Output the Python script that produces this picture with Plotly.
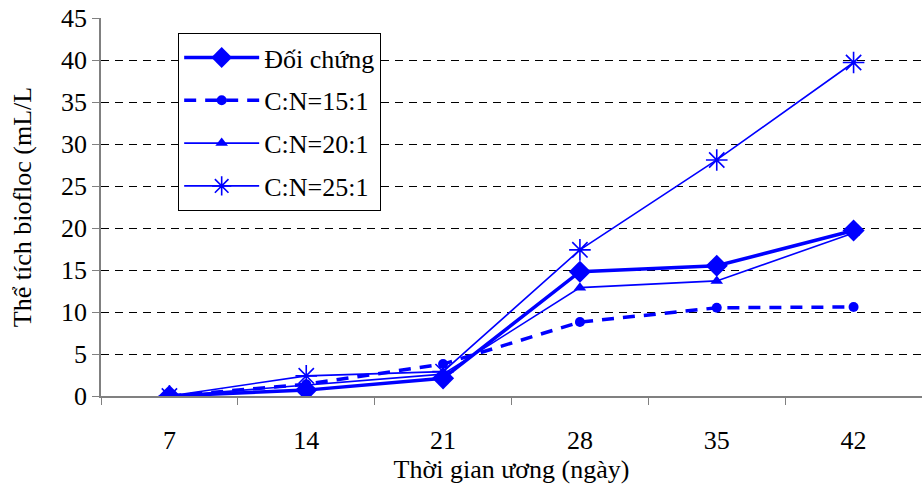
import plotly.graph_objects as go

days = ["7", "14", "21", "28", "35", "42"]
doi_chung = [0.0, 0.7, 2.1, 14.8, 15.5, 19.7]
cn15 = [0.0, 1.4, 3.8, 8.8, 10.5, 10.6]
cn20 = [0.0, 1.3, 2.6, 12.9, 13.7, 19.4]
cn25 = [0.0, 2.4, 2.9, 17.4, 28.1, 39.7]
y_ticks = [0, 5, 10, 15, 20, 25, 30, 35, 40, 45]

BLUE = "#0000FF"
FONT = "Liberation Serif, Times New Roman, serif"
FS = 26

fig = go.Figure()
fig.add_trace(go.Scatter(x=days, y=doi_chung, name="Đối chứng", mode="lines+markers",
                         line=dict(color=BLUE, width=3.5),
                         marker=dict(symbol="diamond", size=17, color=BLUE),
                         legendgroup="a"))
fig.add_trace(go.Scatter(x=days, y=cn15, name="C:N=15:1", mode="lines+markers",
                         line=dict(color=BLUE, width=3.5, dash="12px,9px"),
                         marker=dict(symbol="circle", size=10, color=BLUE),
                         legendgroup="b"))
fig.add_trace(go.Scatter(x=days, y=cn20, name="C:N=20:1", mode="lines+markers",
                         line=dict(color=BLUE, width=1.6),
                         marker=dict(symbol="triangle-up", size=11, color=BLUE),
                         legendgroup="c"))
fig.add_trace(go.Scatter(x=days, y=cn25, name="C:N=25:1", mode="lines+markers",
                         line=dict(color=BLUE, width=1.6),
                         marker=dict(symbol="asterisk-open", size=18, color=BLUE,
                                     line=dict(color=BLUE, width=1.6)),
                         legendgroup="d"))

fig.update_layout(
    width=922, height=497,
    margin=dict(l=101, r=0, t=18, b=101),
    paper_bgcolor="white", plot_bgcolor="white",
    font=dict(family=FONT, size=FS, color="black"),
    showlegend=True,
    legend=dict(x=0.094, y=0.96, xanchor="left", yanchor="top",
                bordercolor="black", borderwidth=1, bgcolor="white",
                font=dict(family=FONT, size=FS), itemwidth=75,
                tracegroupgap=6),
    xaxis=dict(type="category", showgrid=False, showline=True, linecolor="#808080",
               linewidth=1.5, ticks="outside", tickson="boundaries", ticklen=7,
               tickcolor="#808080", ticklabelstandoff=20,
               title=dict(text="Thời gian ương (ngày)", font=dict(family=FONT, size=FS), standoff=6),
               range=[-0.5, 5.5]),
    yaxis=dict(range=[0, 45], tickvals=y_ticks, showgrid=True, gridcolor="black",
               griddash="8px,6px", gridwidth=1, showline=True, linecolor="#808080",
               linewidth=1.5, ticks="outside", ticklen=7, tickcolor="#808080",
               zeroline=False,
               title=dict(text="Thể tích biofloc (mL/L", font=dict(family=FONT, size=FS), standoff=22)),
)

fig.write_html("out.html")
